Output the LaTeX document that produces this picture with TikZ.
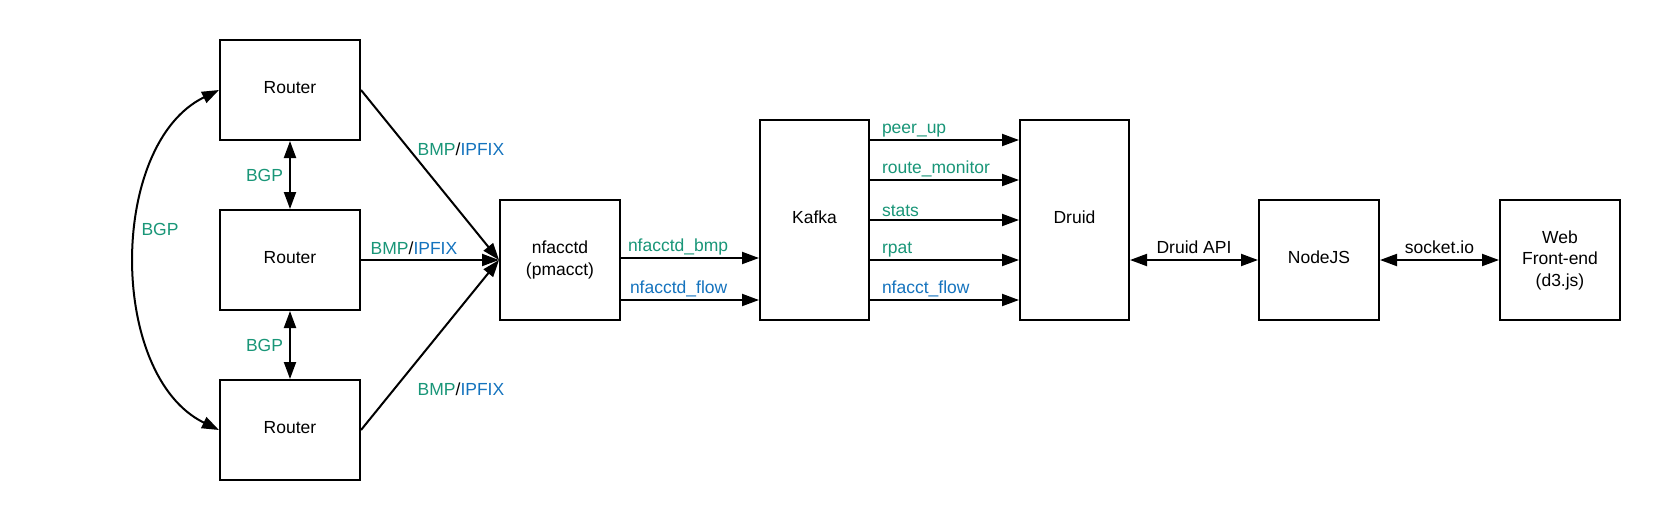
\documentclass[tikz,border=0pt]{standalone}
\usepackage{fontspec}
\setmainfont{Liberation Sans}
\usetikzlibrary{arrows.meta,calc}
\definecolor{bgpgreen}{RGB}{25,150,120}
\definecolor{ipblue}{RGB}{20,115,190}
\begin{document}
\begin{tikzpicture}[x=1pt,y=-1pt,
  font=\fontsize{17.5}{21.5}\selectfont,
  box/.style={draw, line width=2pt, align=center, inner sep=0pt},
  onebox/.style={box, text depth=6pt},
  arr/.style={line width=2pt, -{Triangle[length=17pt,width=12pt]}},
  darr/.style={line width=2pt, {Triangle[length=17pt,width=12pt]}-{Triangle[length=17pt,width=12pt]}},
  grn/.style={text=bgpgreen, inner sep=0pt},
  blu/.style={text=ipblue, inner sep=0pt},
  lbl/.style={inner sep=0pt},
  toplbl/.style={pos=0, anchor=south west, inner sep=0pt, xshift=11pt, yshift=2pt},
]
\useasboundingbox[fill=white] (0,0) rectangle (1660,520);

% boxes
\node[onebox, minimum width=140pt, minimum height=100pt] (r1) at (290,90) {Router};
\node[onebox, minimum width=140pt, minimum height=100pt] (r2) at (290,260) {Router};
\node[onebox, minimum width=140pt, minimum height=100pt] (r3) at (290,430) {Router};
\node[box, minimum width=120pt, minimum height=120pt] (nf) at (560,260) {nfacctd\\(pmacct)};
\node[onebox, minimum width=109pt, minimum height=200pt] (kafka) at (814.5,220) {Kafka};
\node[onebox, minimum width=109pt, minimum height=200pt] (druid) at (1074.5,220) {Druid};
\node[onebox, minimum width=120pt, minimum height=120pt] (nodejs) at (1319,260) {NodeJS};
\node[box, minimum width=120pt, minimum height=120pt] (web) at (1560,260) {Web\\Front-end\\(d3.js)};

% BGP between routers
\draw[darr] (r1) -- (r2) node[midway, left=6pt, grn] {BGP};
\draw[darr] (r2) -- (r3) node[midway, left=6pt, grn] {BGP};
\draw[darr] (r1.west) .. controls (108,144) and (108,376) .. (r3.west);
\node[grn] (bgpc) at (160,229) {BGP};

% routers to nfacctd
\draw[arr] (r1.east) -- (nf.west);
\draw[arr] (r2.east) -- (nf.west);
\draw[arr] (r3.east) -- (nf.west);
\node[lbl] (l1) at (461,149) {\textcolor{bgpgreen}{BMP}/\textcolor{ipblue}{IPFIX}};
\node[lbl] (l2) at (414,248) {\textcolor{bgpgreen}{BMP}/\textcolor{ipblue}{IPFIX}};
\node[lbl] (l3) at (461,389) {\textcolor{bgpgreen}{BMP}/\textcolor{ipblue}{IPFIX}};

% nfacctd to kafka
\draw[arr] ([yshift=2pt]nf.east) -- ([yshift=2pt]nf.east -| kafka.west)
  node[toplbl, xshift=-5pt, text=bgpgreen] {nfacctd\_bmp};
\draw[arr] ([yshift=-40pt]nf.east) -- ([yshift=-40pt]nf.east -| kafka.west)
  node[toplbl, xshift=-3pt, text=ipblue] {nfacctd\_flow};

% kafka to druid
\draw[arr] ([yshift=80pt]kafka.east) -- ([yshift=80pt]druid.west)
  node[toplbl, text=bgpgreen] {peer\_up};
\draw[arr] ([yshift=40pt]kafka.east) -- ([yshift=40pt]druid.west)
  node[toplbl, text=bgpgreen] {route\_monitor};
\draw[arr] (kafka.east) -- (druid.west)
  node[toplbl, text=bgpgreen] {stats};
\draw[arr] ([yshift=-40pt]kafka.east) -- ([yshift=-40pt]druid.west)
  node[toplbl, text=bgpgreen] {rpat};
\draw[arr] ([yshift=-80pt]kafka.east) -- ([yshift=-80pt]druid.west)
  node[toplbl, text=ipblue] {nfacct\_flow};

% druid - nodejs - web
\draw[darr] (nodejs.west -| druid.east) -- (nodejs.west)
  node[midway, above=5pt, inner sep=0pt] {Druid API};
\draw[darr] (nodejs.east) -- (web.west)
  node[midway, above=5pt, inner sep=0pt] {socket.io};
\end{tikzpicture}
\end{document}
